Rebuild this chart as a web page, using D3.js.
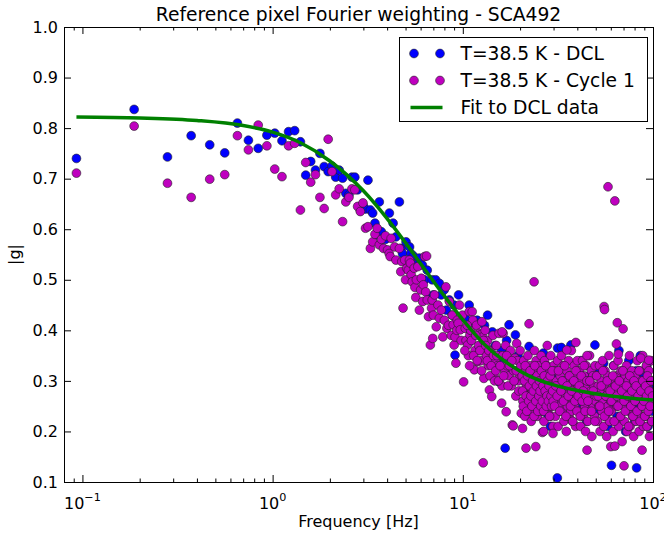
<!DOCTYPE html>
<html>
<head>
<meta charset="utf-8">
<script src="https://cdn.jsdelivr.net/npm/d3@7"></script>
<style>
  body { margin: 0; background: #fff; }
  text { font-family: "DejaVu Sans", sans-serif; fill: #000; }
</style>
</head>
<body>
<svg id="chart" width="664" height="535"></svg>
<script>
// Frequency [Hz], |g| pairs for the DCL run (blue)
var dclLow = [[0.093,0.740],[0.187,0.837],[0.280,0.743],[0.373,0.785],[0.467,0.767],[0.560,0.751],[0.653,0.810],[0.746,0.776],[0.840,0.760],[0.933,0.786],
  [1.026,0.790],[1.120,0.775],[1.213,0.793],[1.306,0.795],[1.400,0.773],[1.493,0.707],[1.586,0.734],[1.680,0.717],[1.773,0.750],[1.866,0.724],
  [1.959,0.714],[2.053,0.725],[2.146,0.703],[2.239,0.717],[2.333,0.701],[2.426,0.671],[2.519,0.668],[2.612,0.703],[2.706,0.703],[2.799,0.678],
  [2.892,0.638],[2.986,0.648],[3.079,0.640],[3.172,0.697],[3.266,0.638],[3.359,0.632],[3.452,0.612],[3.545,0.589],[3.639,0.654],[3.732,0.595]];
var dclMid = [[3.92,0.580],[4.11,0.632],[4.30,0.612],[4.45,0.585],[4.64,0.654],[4.74,0.562],[4.82,0.552],[5.03,0.575],[5.25,0.565],[5.33,0.552],
  [5.50,0.547],[5.70,0.530],[5.91,0.543],[6.13,0.529],[6.30,0.500],[6.50,0.519],[6.67,0.463],[6.90,0.500],[7.00,0.470],[7.20,0.500],
  [7.53,0.493],[7.70,0.470],[7.98,0.480],[8.20,0.440],[8.50,0.460],[8.80,0.430],[9.00,0.450],[9.10,0.351],[9.50,0.470],[10.3,0.424],
  [10.8,0.450],[10.9,0.378],[11.0,0.410],[11.9,0.420],[12.2,0.360],[12.5,0.370],[13.0,0.410],[13.5,0.430],[14.3,0.397],[14.8,0.370],
  [15.5,0.298],[16.0,0.360],[16.5,0.340],[16.7,0.167],[17.0,0.380],[17.5,0.411],[18.9,0.391],[19.5,0.350],[20.5,0.330]];
var dclHigh = [[21.0,0.300],[22.3,0.368],[22.8,0.270],[24.1,0.330],[25.5,0.240],[26.5,0.355],[27.0,0.290],[27.6,0.236],[28.9,0.210],[30.4,0.310],
  [31.4,0.108],[31.5,0.365],[32.0,0.260],[33.0,0.366],[34.2,0.280],[35.8,0.230],[37.0,0.371],[38.6,0.300],[40.3,0.250],[41.8,0.340],
  [43.2,0.270],[44.8,0.220],[46.3,0.310],[47.7,0.290],[49.5,0.371],[50.8,0.240],[52.3,0.320],[53.6,0.260],[55.0,0.335],[56.4,0.280],
  [57.8,0.210],[59.2,0.300],[60.5,0.133],[60.6,0.250],[62.0,0.330],[63.4,0.270],[64.8,0.230],[66.2,0.360],[67.6,0.290],[69.0,0.260],
  [70.4,0.310],[71.8,0.200],[73.2,0.280],[74.6,0.340],[76.0,0.240],[77.4,0.300],[78.8,0.270],[80.2,0.220],[81.6,0.320],[82.0,0.128],
  [83.0,0.290],[84.4,0.250],[85.8,0.350],[87.2,0.260],[88.6,0.310],[90.0,0.230],[91.4,0.280],[92.8,0.330],[94.2,0.210],[95.6,0.300],
  [97.0,0.270],[98.4,0.240],[99.6,0.290]];

// Frequency [Hz], |g| pairs for Cycle 1 (magenta)
var cycLow = [[0.093,0.711],[0.187,0.804],[0.280,0.691],[0.373,0.663],[0.467,0.699],[0.560,0.708],[0.653,0.785],[0.746,0.757],[0.840,0.806],[0.933,0.765],
  [1.026,0.719],[1.120,0.704],[1.213,0.765],[1.306,0.770],[1.400,0.638],[1.493,0.732],[1.586,0.693],[1.680,0.708],[1.773,0.663],[1.866,0.641],
  [1.959,0.778],[2.053,0.714],[2.146,0.668],[2.239,0.680],[2.333,0.615],[2.426,0.654],[2.519,0.663],[2.612,0.680],[2.706,0.678],[2.799,0.645],
  [2.892,0.635],[2.986,0.652],[3.079,0.602],[3.172,0.605],[3.266,0.562],[3.359,0.575],[3.452,0.590],[3.545,0.602],[3.639,0.569],[3.732,0.580]];
var cycMid = [[3.83,0.562],[3.92,0.587],[4.02,0.559],[4.10,0.552],[4.15,0.546],[4.20,0.582],[4.38,0.565],[4.45,0.539],[4.64,0.562],[4.72,0.516],
  [4.78,0.536],[4.85,0.444],[4.95,0.539],[5.00,0.500],[5.07,0.523],[5.17,0.519],[5.24,0.539],[5.30,0.533],[5.35,0.510],[5.42,0.496],
  [5.55,0.523],[5.60,0.485],[5.66,0.465],[5.70,0.500],[5.80,0.526],[5.91,0.440],[6.00,0.480],[6.05,0.503],[6.15,0.457],[6.20,0.490],
  [6.30,0.546],[6.38,0.476],[6.45,0.547],[6.50,0.460],[6.60,0.427],[6.75,0.371],[6.85,0.444],[6.90,0.460],[6.95,0.384],[7.00,0.430],
  [7.10,0.470],[7.25,0.407],[7.40,0.450],[7.53,0.424],[7.70,0.440],[7.85,0.387],[8.00,0.420],[8.15,0.486],[8.25,0.404],[8.40,0.410],
  [8.50,0.457],[8.70,0.390],[8.80,0.430],[8.90,0.411],[9.00,0.371],[9.10,0.387],[9.20,0.335],[9.30,0.400],[9.35,0.420],[9.45,0.414],
  [9.60,0.450],[9.70,0.401],[9.80,0.380],[9.95,0.430],[10.1,0.298],[10.3,0.404],[10.4,0.380],[10.6,0.371],[10.7,0.350],[10.8,0.437],
  [10.9,0.391],[11.0,0.400],[11.2,0.437],[11.3,0.420],[11.5,0.322],[11.6,0.360],[11.8,0.410],[12.0,0.338],[12.1,0.370],[12.2,0.394],
  [12.4,0.391],[12.5,0.340],[12.6,0.417],[12.7,0.387],[12.8,0.138],[12.9,0.305],[13.0,0.360],[13.1,0.400],[13.3,0.350],[13.5,0.380],
  [13.6,0.330],[13.8,0.282],[14.0,0.360],[14.2,0.269],[14.4,0.390],[14.6,0.310],[14.8,0.340],[15.0,0.370],[15.2,0.330],[15.5,0.394],
  [15.8,0.350],[16.0,0.256],[16.1,0.290],[16.3,0.394],[16.6,0.320],[16.8,0.370],[16.9,0.239],[17.1,0.330],[17.5,0.310],[17.8,0.360],
  [18.0,0.290],[18.2,0.213],[18.4,0.211],[18.5,0.320],[18.8,0.345],[19.0,0.270],[19.2,0.374],[19.4,0.340],[19.6,0.300],[19.9,0.310],
  [20.0,0.360],[20.3,0.236],
  [10.25,0.36],[10.55,0.41],[10.85,0.33],[11.1,0.38],[11.4,0.35],[11.7,0.39],[11.9,0.34],[12.3,0.36],[12.55,0.32],[12.85,0.38],
  [13.2,0.37],[13.45,0.34],[13.7,0.36],[13.9,0.31],[14.1,0.33],[14.5,0.35],[14.7,0.30],[14.9,0.32],[15.1,0.35],[15.4,0.30],
  [15.7,0.33],[16.2,0.35],[16.4,0.31],[17.0,0.35],[17.3,0.29],[17.6,0.33],[18.1,0.34],[18.6,0.30],[19.1,0.32],[19.7,0.28],[20.2,0.33]];
var cycHigh = [[20.5,0.31],[20.7,0.26],[20.9,0.34],[21.0,0.28],[21.2,0.23],[21.4,0.32],[21.6,0.29],[21.8,0.25],[22.0,0.35],[22.1,0.27],
  [22.3,0.30],[22.5,0.24],[22.7,0.33],[22.9,0.22],[23.0,0.31],[23.2,0.28],[23.4,0.32],[23.6,0.26],[23.8,0.36],[24.0,0.25],
  [24.1,0.29],[24.3,0.34],[24.5,0.27],[24.7,0.23],[24.9,0.30],[25.0,0.33],[25.2,0.26],[25.4,0.31],[25.6,0.24],[25.8,0.35],
  [26.0,0.28],[26.1,0.25],[26.3,0.32],[26.5,0.29],[26.7,0.22],[26.9,0.34],[27.0,0.27],[27.2,0.30],[27.4,0.26],[27.6,0.33],
  [27.8,0.37],[28.0,0.24],[28.1,0.31],[28.3,0.28],[28.5,0.25],[28.7,0.32],[28.9,0.23],[29.0,0.35],[29.2,0.29],[29.4,0.27],
  [29.6,0.30],[29.8,0.21],[30.0,0.33],
  [30.2,0.27],[30.5,0.32],[30.7,0.23],[31.0,0.30],[31.2,0.26],[31.5,0.34],[31.7,0.21],[32.0,0.29],[32.2,0.25],[32.5,0.31],
  [32.7,0.28],[33.0,0.35],[33.2,0.24],[33.5,0.27],[33.7,0.33],[34.0,0.22],[34.2,0.30],[34.5,0.26],[34.7,0.29],[35.0,0.20],
  [35.2,0.32],[35.5,0.25],[35.7,0.28],[36.0,0.34],[36.2,0.23],[36.5,0.31],[36.7,0.27],[37.0,0.24],[37.2,0.36],[37.5,0.29],
  [37.7,0.22],[38.0,0.30],[38.2,0.26],[38.5,0.33],[38.7,0.25],[39.0,0.28],[39.2,0.21],[39.5,0.31],[39.7,0.27],[40.0,0.34],
  [40.3,0.29],[40.6,0.24],[41.0,0.32],[41.3,0.27],[41.6,0.21],[41.9,0.30],[42.2,0.26],[42.6,0.34],[42.9,0.23],[43.2,0.28],
  [43.5,0.31],[43.8,0.25],[44.2,0.20],[44.5,0.33],[44.8,0.27],[45.1,0.29],[45.4,0.22],[45.8,0.30],[46.1,0.26],[46.4,0.35],
  [46.7,0.24],[47.0,0.28],[47.4,0.32],[47.7,0.19],[48.0,0.27],[48.3,0.31],[48.6,0.25],[49.0,0.29],[49.3,0.23],[49.6,0.33],[49.9,0.26],
  [50.3,0.27],[50.7,0.31],[51.1,0.22],[51.5,0.29],[51.9,0.25],[52.3,0.33],[52.7,0.20],[53.1,0.28],[53.5,0.30],[53.9,0.24],
  [54.3,0.34],[54.7,0.26],[55.1,0.21],[55.5,0.29],[55.9,0.32],[56.3,0.23],[56.7,0.27],[57.1,0.19],[57.5,0.31],[57.9,0.25],
  [58.3,0.28],[58.7,0.35],[59.1,0.22],[59.5,0.30],[59.9,0.26],
  [60.3,0.24],[60.8,0.30],[61.2,0.27],[61.7,0.20],[62.2,0.33],[62.7,0.26],[63.1,0.29],[63.6,0.22],[64.1,0.31],[64.6,0.25],
  [65.0,0.28],[65.5,0.34],[66.0,0.21],[66.5,0.27],[66.9,0.30],[67.4,0.23],[67.9,0.32],[68.4,0.26],[68.8,0.18],[69.3,0.29],[69.8,0.25],
  [70.3,0.28],[70.8,0.22],[71.4,0.31],[71.9,0.26],[72.5,0.33],[73.0,0.20],[73.6,0.27],[74.1,0.30],[74.7,0.24],[75.2,0.35],
  [75.8,0.21],[76.3,0.29],[76.9,0.25],[77.4,0.32],[78.0,0.23],[78.5,0.27],[79.1,0.19],[79.6,0.30],
  [80.2,0.26],[80.8,0.31],[81.4,0.22],[82.1,0.28],[82.7,0.34],[83.3,0.24],[83.9,0.29],[84.5,0.20],[85.2,0.32],[85.8,0.27],
  [86.4,0.23],[87.0,0.30],[87.6,0.25],[88.3,0.35],[88.9,0.21],[89.5,0.28],
  [90.2,0.30],[90.9,0.23],[91.6,0.27],[92.3,0.33],[93.0,0.21],[93.7,0.29],[94.4,0.25],[95.1,0.32],[95.8,0.19],[96.5,0.28],
  [97.2,0.26],[97.9,0.34],[98.6,0.22],[99.3,0.30],
  [21.5,0.167],[24.2,0.170],[20.6,0.206],[26.2,0.198],[26.6,0.200],[29.8,0.196],[45.0,0.163],[60.0,0.170],[63.0,0.171],[87.6,0.163],
  [70.4,0.132],[23.7,0.496],[58.0,0.684],[63.0,0.656],[55.3,0.447],[55.6,0.441],[64.9,0.415],[69.6,0.403],[64.2,0.373],[39.3,0.376],
  [65.7,0.353],[35.2,0.361],[45.0,0.350],[86.3,0.345],[95.0,0.341],[22.3,0.413],[16.1,0.397]];
// Cycle 1 points filling the core of the high-frequency cloud
var cycCore = [[20.6,0.28],[20.8,0.25],[21.1,0.30],[21.3,0.33],[21.5,0.27],[21.7,0.24],[21.9,0.31],[22.2,0.26],[22.4,0.29],[22.6,0.32],
  [22.8,0.27],[23.1,0.25],[23.3,0.30],[23.5,0.28],[23.7,0.23],[23.9,0.33],[24.2,0.26],[24.4,0.29],[24.6,0.31],[24.8,0.24],
  [25.1,0.27],[25.3,0.30],[25.5,0.28],[25.7,0.25],[25.9,0.32],[26.2,0.26],[26.4,0.29],[26.6,0.24],[26.8,0.31],[27.1,0.28],
  [27.3,0.33],[27.5,0.25],[27.7,0.27],[27.9,0.30],[28.2,0.26],[28.4,0.29],[28.6,0.23],[28.8,0.31],[29.1,0.27],[29.3,0.25],
  [29.5,0.32],[29.7,0.28],[29.9,0.26],
  [30.35,0.25],[30.85,0.29],[31.35,0.27],[31.85,0.32],[32.35,0.24],[32.85,0.28],[33.35,0.30],[33.85,0.26],[34.35,0.33],[34.85,0.23],
  [35.35,0.29],[35.85,0.27],[36.35,0.31],[36.85,0.25],[37.35,0.28],[37.85,0.22],[38.35,0.30],[38.85,0.26],[39.35,0.32],[39.85,0.24],
  [40.45,0.27],[40.95,0.29],[41.45,0.23],[41.95,0.31],[42.45,0.26],[42.95,0.28],[43.45,0.33],[43.95,0.24],[44.45,0.27],[44.95,0.30],
  [45.5,0.26],[46.5,0.30],[47.5,0.24],[48.5,0.28],[49.5,0.22],[50.5,0.31],[51.5,0.27],[52.5,0.25],[53.5,0.29],[54.5,0.32],
  [55.5,0.23],[56.5,0.27],[57.5,0.30],[58.5,0.24],[59.5,0.28],[60.5,0.26],[61.5,0.31],[62.5,0.22],[63.5,0.29],[64.5,0.27],
  [65.5,0.25],[66.5,0.30],[67.5,0.23],[68.5,0.28],[69.5,0.32],[70.5,0.26],[71.5,0.24],[72.5,0.29],[73.5,0.27],[74.5,0.21],
  [75.5,0.31],[76.5,0.25],[77.5,0.28],[78.5,0.23],[79.5,0.30],[80.5,0.26],[81.5,0.29],[82.5,0.24],[83.5,0.27],[84.5,0.32],
  [85.5,0.22],[86.5,0.28],[87.5,0.25],[88.5,0.30],[89.5,0.26],[90.5,0.23],[91.5,0.29],[92.5,0.27],[93.5,0.31],[94.5,0.24],
  [95.5,0.28],[96.5,0.25],[97.5,0.30],[98.5,0.22],[99.5,0.27]];

// Fit to DCL data
var fitFreq = [0.093, 0.2, 0.4, 0.7, 1.0, 1.4, 2.0, 3.0, 4.0, 5.0, 6.0, 8.0, 10, 13, 17, 22, 30, 40, 55, 75, 100];
var fitG = [0.822, 0.820, 0.815, 0.805, 0.792, 0.771, 0.735, 0.676, 0.621, 0.573, 0.532, 0.468, 0.421, 0.372, 0.336, 0.311, 0.292, 0.281, 0.272, 0.266, 0.262];

// Tick labels
var xDecades = [0.1, 1, 10, 100];
var xExponents = ["\u22121", "0", "1", "2"];
var yTicks = [0.1, 0.2, 0.3, 0.4, 0.5, 0.6, 0.7, 0.8, 0.9, 1.0];

var legendItems = [
  {label: "T=38.5 K - DCL", kind: "dot", color: "#0000ff"},
  {label: "T=38.5 K - Cycle 1", kind: "dot", color: "#bf00bf"},
  {label: "Fit to DCL data", kind: "line", color: "#008000"}
];

// Sizing
var margin = {top: 27, right: 11, bottom: 53, left: 64};
var w = 664 - margin.left - margin.right;
var h = 535 - margin.top - margin.bottom;

var svg = d3.select("#chart");
var g = svg.append("g").attr("transform", "translate(" + margin.left + "," + margin.top + ")");

var xScale = d3.scaleLog().domain([0.08, 100]).range([0, w]);
var yScale = d3.scaleLinear().domain([0.1, 1.0]).range([h, 0]);

svg.append("defs").append("clipPath").attr("id", "plotClip")
  .append("rect").attr("width", w).attr("height", h);

var plot = g.append("g").attr("clip-path", "url(#plotClip)");

// scatter points
function drawDots(data, color) {
  plot.append("g").selectAll("circle")
    .data(data)
    .enter()
    .append("circle")
    .attr("cx", function(d) { return xScale(d[0]); })
    .attr("cy", function(d) { return yScale(d[1]); })
    .attr("r", 4.4)
    .attr("fill", color)
    .attr("stroke", "#222")
    .attr("stroke-width", 0.6);
}
drawDots(dclLow.concat(dclMid, dclHigh), "#0000ff");
drawDots(cycLow.concat(cycMid, cycHigh, cycCore), "#bf00bf");

// fit curve
var line = d3.line()
  .x(function(d) { return xScale(d[0]); })
  .y(function(d) { return yScale(d[1]); })
  .curve(d3.curveMonotoneX);
plot.append("path")
  .datum(d3.zip(fitFreq, fitG))
  .attr("d", line)
  .attr("fill", "none")
  .attr("stroke", "#008000")
  .attr("stroke-width", 3.5);

// ticks, all pointing inwards
var minorTicks = xScale.ticks().filter(function(v) { return xDecades.indexOf(v) < 0; });

function tickAxis(axis, transform) {
  var a = g.append("g").attr("transform", transform).call(axis);
  a.select(".domain").remove();
  a.selectAll("line").attr("stroke", "#000");
  return a;
}
tickAxis(d3.axisBottom(xScale).tickValues(xDecades).tickSizeInner(-7).tickSizeOuter(0).tickFormat(""), "translate(0," + h + ")");
tickAxis(d3.axisBottom(xScale).tickValues(minorTicks).tickSizeInner(-3.5).tickSizeOuter(0).tickFormat(""), "translate(0," + h + ")");
tickAxis(d3.axisTop(xScale).tickValues(xDecades).tickSizeInner(-7).tickSizeOuter(0).tickFormat(""), "translate(0,0)");
tickAxis(d3.axisTop(xScale).tickValues(minorTicks).tickSizeInner(-3.5).tickSizeOuter(0).tickFormat(""), "translate(0,0)");
tickAxis(d3.axisRight(yScale).tickValues(yTicks).tickSizeInner(-7).tickSizeOuter(0).tickFormat(""), "translate(" + w + ",0)");

var yAxis = tickAxis(d3.axisLeft(yScale).tickValues(yTicks).tickSizeInner(-7).tickSizeOuter(0)
  .tickPadding(6).tickFormat(d3.format(".1f")), "translate(0,0)");
yAxis.attr("font-family", null).attr("font-size", null);
yAxis.selectAll("text").style("font-size", "16px").attr("fill", "#000");

// frame
g.append("rect")
  .attr("x", 0.5).attr("y", 0.5)
  .attr("width", w).attr("height", h)
  .attr("fill", "none").attr("stroke", "#000").attr("stroke-width", 1);

// x tick labels with exponents
var xl = g.append("g").selectAll("text")
  .data(xDecades)
  .enter()
  .append("text")
  .attr("x", function(d) { return xScale(d); })
  .attr("y", h + 27)
  .attr("text-anchor", "middle")
  .style("font-size", "16px")
  .text("10");
xl.append("tspan")
  .attr("dy", -8)
  .style("font-size", "11.2px")
  .text(function(d, i) { return xExponents[i]; });

// axis labels and title
g.append("text")
  .attr("x", w / 2).attr("y", h + 45)
  .attr("text-anchor", "middle")
  .style("font-size", "16px")
  .text("Frequency [Hz]");
g.append("text")
  .attr("transform", "translate(" + (20 - margin.left) + "," + (h / 2) + ")rotate(-90)")
  .attr("text-anchor", "middle")
  .style("font-size", "16px")
  .text("|g|");
g.append("text")
  .attr("x", w / 2).attr("y", -6)
  .attr("text-anchor", "middle")
  .style("font-size", "18.7px")
  .text("Reference pixel Fourier weighting - SCA492");

// legend
var lg = svg.append("g").attr("transform", "translate(399.5,37.5)");
lg.append("rect")
  .attr("width", 248).attr("height", 84)
  .attr("fill", "#fff").attr("stroke", "#000").attr("stroke-width", 1);
var rows = lg.selectAll(".legend")
  .data(legendItems)
  .enter()
  .append("g")
  .attr("class", "legend")
  .attr("transform", function(d, i) { return "translate(0," + (16 + i * 27) + ")"; });
rows.filter(function(d) { return d.kind === "dot"; })
  .selectAll("circle")
  .data(function(d) { return [14.5, 40.5].map(function(x) { return {x: x, color: d.color}; }); })
  .enter()
  .append("circle")
  .attr("cx", function(d) { return d.x; })
  .attr("r", 4.4)
  .attr("fill", function(d) { return d.color; })
  .attr("stroke", "#222")
  .attr("stroke-width", 0.6);
rows.filter(function(d) { return d.kind === "line"; })
  .append("line")
  .attr("x1", 11).attr("x2", 43)
  .attr("stroke", function(d) { return d.color; })
  .attr("stroke-width", 3.5);
rows.append("text")
  .attr("x", 61)
  .attr("dy", "0.36em")
  .style("font-size", "18.7px")
  .text(function(d) { return d.label; });
</script>
</body>
</html>
